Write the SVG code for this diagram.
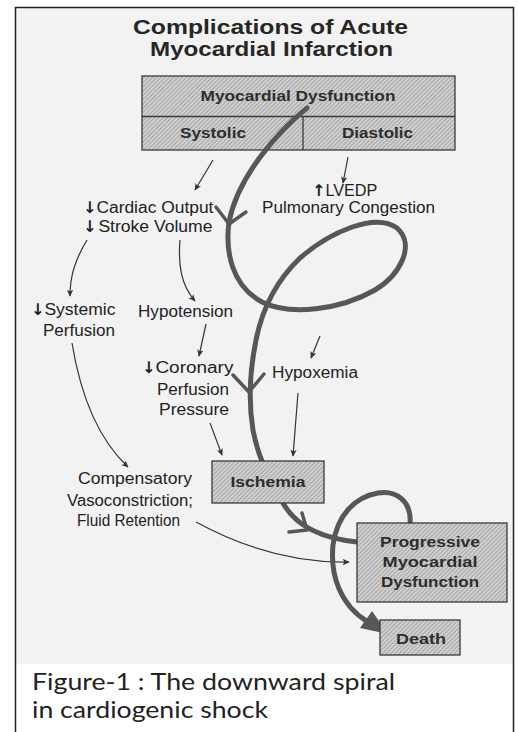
<svg xmlns="http://www.w3.org/2000/svg" width="518" height="732" viewBox="0 0 518 732">
<defs>
<pattern id="hatch" width="3" height="3" patternUnits="userSpaceOnUse" patternTransform="rotate(45)">
<rect width="3" height="3" fill="#d0d0d0"/>
<line x1="0.5" y1="0" x2="0.5" y2="3" stroke="#a6a6a6" stroke-width="1"/>
</pattern>
<marker id="ah" viewBox="0 0 10 10" refX="9" refY="5" markerWidth="7" markerHeight="7" markerUnits="userSpaceOnUse" orient="auto">
<path d="M0,0.5 L10,5 L0,9.5 L2.5,5 Z" fill="#333"/>
</marker>
</defs>
<style>
.lbl{font-family:"Liberation Sans",Arial,sans-serif;font-size:16px;fill:#222}
.ar{font-family:"DejaVu Sans",sans-serif;font-weight:bold;fill:#222}
.bx{font-family:"Liberation Sans",Arial,sans-serif;font-size:15px;font-weight:bold;fill:#2e2e2e}
.ttl{font-family:"Liberation Sans",Arial,sans-serif;font-size:19.5px;font-weight:bold;fill:#262626}
.cap{font-family:Lato,"Open Sans",sans-serif;font-size:23px;fill:#222}
.box{fill:url(#hatch);stroke:#3a3a3a;stroke-width:1.3}
.thin{fill:none;stroke:#333;stroke-width:1.2;marker-end:url(#ah)}
.thick{fill:none;stroke:#575757;stroke-width:5;stroke-linecap:round;stroke-linejoin:round}
.chev{fill:none;stroke:#575757;stroke-width:3.5;stroke-linecap:round;stroke-linejoin:round}
</style>
<rect x="0" y="0" width="518" height="732" fill="#ffffff"/>
<rect x="16" y="8" width="497" height="656" fill="#f2f2f2"/>
<path d="M15.5,740 V7.5 H513.5 V740" fill="none" stroke="#222" stroke-width="1.5"/>

<g id="title">
<text class="ttl" x="133" y="34" textLength="275" lengthAdjust="spacingAndGlyphs">Complications of Acute</text>
<text class="ttl" x="150" y="56" textLength="243" lengthAdjust="spacingAndGlyphs">Myocardial Infarction</text>
</g>

<g id="myocardial-dysfunction">
<rect class="box" x="142" y="76" width="313" height="74"/>
<line x1="142" y1="116.5" x2="455" y2="116.5" stroke="#3a3a3a" stroke-width="1.3"/>
<line x1="303" y1="116.5" x2="303" y2="150" stroke="#3a3a3a" stroke-width="1.3"/>
<text class="bx" x="298" y="101" text-anchor="middle" textLength="195" lengthAdjust="spacingAndGlyphs">Myocardial Dysfunction</text>
<text class="bx" x="180" y="138" textLength="66" lengthAdjust="spacingAndGlyphs">Systolic</text>
<text class="bx" x="342" y="138" textLength="71" lengthAdjust="spacingAndGlyphs">Diastolic</text>
</g>

<g id="connectors">
<path class="thin" d="M213,160 L195,190"/>
<path class="thin" d="M348,157 L343,183"/>
<path class="thin" d="M87,240 C75,260 70,276 70,296"/>
<path class="thin" d="M180,240 C178,265 181,285 195,301"/>
<path class="thin" d="M206,324 L199,356"/>
<path class="thin" d="M320,336 L311,358"/>
<path class="thin" d="M210,423 L222,455"/>
<path class="thin" d="M298,393 L293,456"/>
<path class="thin" d="M72,343 C80,392 96,437 128,467"/>
<path class="thin" d="M196,522 C240,546 292,563 349,562"/>

<path class="thick" d="M307,108 C280,130 238,175 229,222 C225,252 232,286 262,302 C290,316 340,310 375,290 C400,275 416,245 397,228 C375,212 330,232 300,258 C275,282 262,310 256,340 C250,370 248,400 253,430 C256,445 259,454 262,461"/>
<path class="chev" d="M216,207 L229,224 L246,212"/>
<path class="chev" d="M233,375 L249,392 L264,374"/>
<path class="thick" d="M283,503 C295,525 320,538 357,542"/>
<path class="chev" d="M302,513 L307,530 L289,532"/>
<path class="thick" d="M410,524 C412,500 395,490 378,493 C355,497 337,515 333,545 C330,575 340,605 368,622"/>
<path d="M388,634 L360,628 L372,611 Z" fill="#575757"/>
</g>

<g id="lvedp">
<text class="lbl" x="312" y="196"><tspan class="ar">↑</tspan><tspan textLength="52" lengthAdjust="spacingAndGlyphs">LVEDP</tspan></text>
<text class="lbl" x="262" y="213" textLength="173" lengthAdjust="spacingAndGlyphs">Pulmonary Congestion</text>
</g>
<g id="cardiac-output">
<text class="lbl" x="83" y="213"><tspan class="ar">↓</tspan><tspan textLength="117" lengthAdjust="spacingAndGlyphs">Cardiac Output</tspan></text>
<text class="lbl" x="83" y="232"><tspan class="ar">↓</tspan><tspan dx="2" textLength="114" lengthAdjust="spacingAndGlyphs">Stroke Volume</tspan></text>
</g>
<g id="systemic-perfusion">
<text class="lbl" x="31" y="315"><tspan class="ar">↓</tspan><tspan textLength="71" lengthAdjust="spacingAndGlyphs">Systemic</tspan></text>
<text class="lbl" x="43" y="336" textLength="72" lengthAdjust="spacingAndGlyphs">Perfusion</text>
</g>
<g id="hypotension">
<text class="lbl" x="138" y="317" textLength="95" lengthAdjust="spacingAndGlyphs">Hypotension</text>
</g>
<g id="coronary-perfusion">
<text class="lbl" x="142" y="373"><tspan class="ar">↓</tspan><tspan textLength="78" lengthAdjust="spacingAndGlyphs">Coronary</tspan></text>
<text class="lbl" x="157" y="395" textLength="72" lengthAdjust="spacingAndGlyphs">Perfusion</text>
<text class="lbl" x="159" y="415" textLength="70" lengthAdjust="spacingAndGlyphs">Pressure</text>
</g>
<g id="hypoxemia">
<text class="lbl" x="272" y="378" textLength="86" lengthAdjust="spacingAndGlyphs">Hypoxemia</text>
</g>
<g id="compensatory">
<text class="lbl" x="78" y="484" textLength="114" lengthAdjust="spacingAndGlyphs">Compensatory</text>
<text class="lbl" x="67" y="506" textLength="126" lengthAdjust="spacingAndGlyphs">Vasoconstriction;</text>
<text class="lbl" x="77" y="526" textLength="103" lengthAdjust="spacingAndGlyphs">Fluid Retention</text>
</g>
<g id="ischemia">
<rect class="box" x="212" y="461" width="112" height="42"/>
<text class="bx" x="268" y="487" text-anchor="middle" textLength="75" lengthAdjust="spacingAndGlyphs">Ischemia</text>
</g>
<g id="progressive">
<rect class="box" x="357" y="523" width="150" height="79"/>
<text class="bx" x="430" y="547" text-anchor="middle" textLength="100" lengthAdjust="spacingAndGlyphs">Progressive</text>
<text class="bx" x="430" y="567" text-anchor="middle" textLength="95" lengthAdjust="spacingAndGlyphs">Myocardial</text>
<text class="bx" x="430" y="587" text-anchor="middle" textLength="98" lengthAdjust="spacingAndGlyphs">Dysfunction</text>
</g>
<g id="death">
<rect class="box" x="380" y="620" width="80" height="35"/>
<text class="bx" x="421" y="644" text-anchor="middle" textLength="50" lengthAdjust="spacingAndGlyphs">Death</text>
</g>
<g id="caption">
<text class="cap" x="32" y="690" textLength="363" lengthAdjust="spacingAndGlyphs">Figure-1 : The downward spiral</text>
<text class="cap" x="32" y="718" textLength="236" lengthAdjust="spacingAndGlyphs">in cardiogenic shock</text>
</g>
</svg>
